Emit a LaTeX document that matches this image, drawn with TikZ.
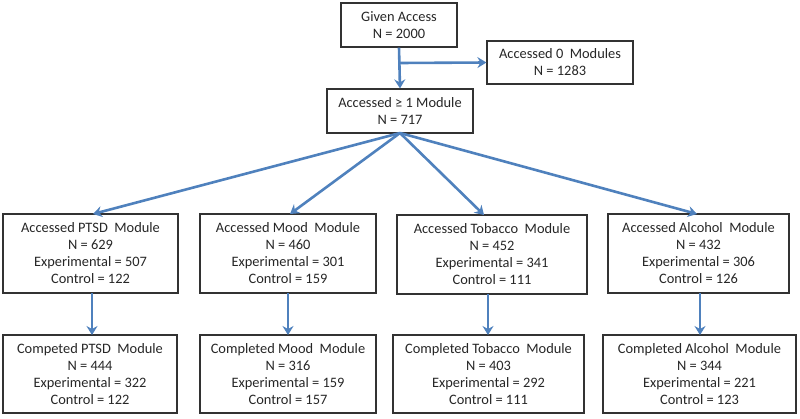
\documentclass[tikz,border=0pt]{standalone}
\usepackage{fontspec}
\setmainfont{Carlito}
\usetikzlibrary{arrows.meta}
\definecolor{arrowblue}{RGB}{79,129,189}
\definecolor{boxline}{RGB}{50,50,50}
\begin{document}
\begin{tikzpicture}[x=1pt,y=-1pt,
  box/.style={draw=boxline,line width=1.2pt,rectangle,inner sep=0pt,align=center,
    font=\fontsize{14.4}{17}\selectfont,text=black!85},
  flow/.style={draw=arrowblue,line width=2.6pt,-{Stealth[length=9pt,width=11pt,inset=3pt]}}]
\useasboundingbox (0,0) rectangle (800,418);
\node[box,minimum width=116pt,minimum height=44pt] (given) at (399,25) {Given Access\\N = 2000};
\node[box,minimum width=146pt,minimum height=43pt] (acc0) at (560,62.5) {Accessed 0\ \ Modules\\N = 1283};
\node[box,minimum width=146pt,minimum height=44pt] (acc1) at (400,111) {Accessed ≥ 1 Module\\N = 717};

\node[box,minimum width=175pt,minimum height=79pt] (ptsd) at (90.5,253.5) {Accessed PTSD\ \ Module\\N = 629\\Experimental = 507\\Control = 122};
\node[box,minimum width=176pt,minimum height=79pt] (mood) at (288,253.5) {Accessed Mood\ \ Module\\N = 460\\Experimental = 301\\Control = 159};
\node[box,minimum width=190pt,minimum height=79pt] (tob) at (492,254.5) {Accessed Tobacco\ \ Module\\N = 452\\Experimental = 341\\Control = 111};
\node[box,minimum width=181pt,minimum height=79pt] (alc) at (698.5,253.5) {Accessed Alcohol\ \ Module\\N = 432\\Experimental = 306\\Control = 126};

\node[box,minimum width=174pt,minimum height=78pt] (ptsdc) at (90,374) {Competed PTSD\ \ Module\\N = 444\\Experimental = 322\\Control = 122};
\node[box,minimum width=176pt,minimum height=78pt] (moodc) at (288,374) {Completed Mood\ \ Module\\N = 316\\Experimental = 159\\Control = 157};
\node[box,minimum width=191pt,minimum height=78pt] (tobc) at (488.5,374) {Completed Tobacco\ \ Module\\N = 403\\Experimental = 292\\Control = 111};
\node[box,minimum width=193pt,minimum height=78pt] (alcc) at (699.5,374) {Completed Alcohol\ \ Module\\N = 344\\Experimental = 221\\Control = 123};

\coordinate (br) at (399,63);
\draw[flow] (given.south) -- (acc1.north);
\draw[flow] (br) -- (acc0.west);

\coordinate (top1) at (400,133);
\draw[flow] (top1) -- (93,214);
\draw[flow] (top1) -- (290,214);
\draw[flow] (top1) -- (484,215);
\draw[flow] (top1) -- (697,214);

\draw[flow] (92,293) -- (92,335);
\draw[flow] (288,293) -- (288,335);
\draw[flow] (488,294) -- (488,335);
\draw[flow] (700,293) -- (700,335);
\end{tikzpicture}
\end{document}
